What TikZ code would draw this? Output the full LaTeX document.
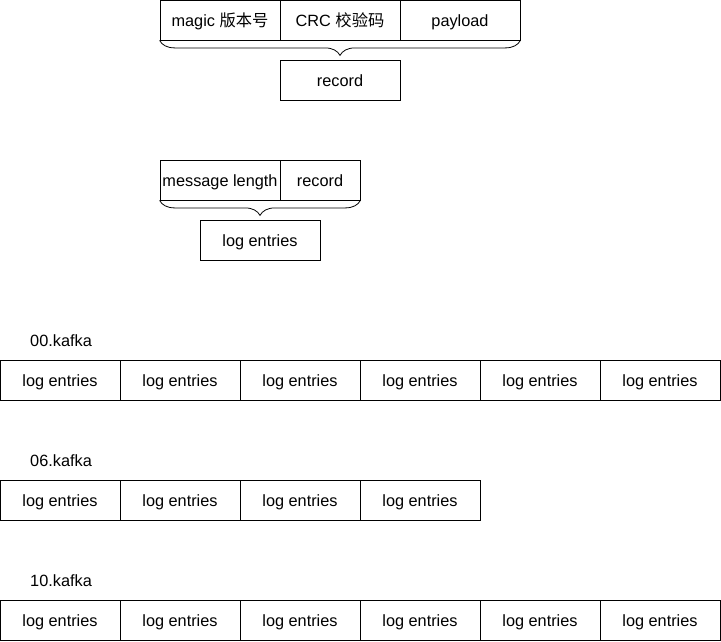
\documentclass[tikz,border=0pt]{standalone}
\usepackage{fontspec}
\setmainfont{Liberation Sans}
\newfontfamily\cjk{Noto Sans CJK SC}
\usetikzlibrary{decorations.pathreplacing}
\tikzset{
  cell/.style={draw,line width=0.8pt,minimum width=120pt,minimum height=40pt,inner sep=0pt,
    text height=14pt,text depth=1.4pt,font=\fontsize{16.3}{19}\selectfont},
  label text/.style={font=\fontsize{16.3}{19}\selectfont,inner sep=0pt,text height=14pt,text depth=1.4pt},
  curly/.style={decorate,decoration={brace,mirror,amplitude=15pt},line width=0.8pt}
}
\begin{document}
\begin{tikzpicture}[x=1pt,y=-1pt]
            \useasboundingbox (0,0) rectangle (721,641);
            % record
            \node[cell] (magic) at (220,20) {magic {\cjk 版本号}};
            \node[cell] (crc) at (340,20) {CRC {\cjk 校验码}};
            \node[cell] (payload) at (460,20) {payload};
            \draw[curly] (magic.south west) -- (payload.south east);
            \node[cell] (record) at (340,80) {record};
            % log entries
            \node[cell] (msglen) at (220,180) {message length};
            \node[cell,minimum width=80pt] (rec) at (320,180) {record};
            \draw[curly] (msglen.south west) -- (rec.south east);
            \node[cell] (entry) at (260,240) {log entries};
            % 00.kafka
            \node[label text,anchor=west] (f00) at (30,340) {00.kafka};
            \node[cell] (a1) at (60,380) {log entries};
            \node[cell] (a2) at (180,380) {log entries};
            \node[cell] (a3) at (300,380) {log entries};
            \node[cell] (a4) at (420,380) {log entries};
            \node[cell] (a5) at (540,380) {log entries};
            \node[cell] (a6) at (660,380) {log entries};
            % 06.kafka
            \node[label text,anchor=west] (f06) at (30,460) {06.kafka};
            \node[cell] (b1) at (60,500) {log entries};
            \node[cell] (b2) at (180,500) {log entries};
            \node[cell] (b3) at (300,500) {log entries};
            \node[cell] (b4) at (420,500) {log entries};
            % 10.kafka
            \node[label text,anchor=west] (f10) at (30,580) {10.kafka};
            \node[cell] (c1) at (60,620) {log entries};
            \node[cell] (c2) at (180,620) {log entries};
            \node[cell] (c3) at (300,620) {log entries};
            \node[cell] (c4) at (420,620) {log entries};
            \node[cell] (c5) at (540,620) {log entries};
            \node[cell] (c6) at (660,620) {log entries};
\end{tikzpicture}
\end{document}
